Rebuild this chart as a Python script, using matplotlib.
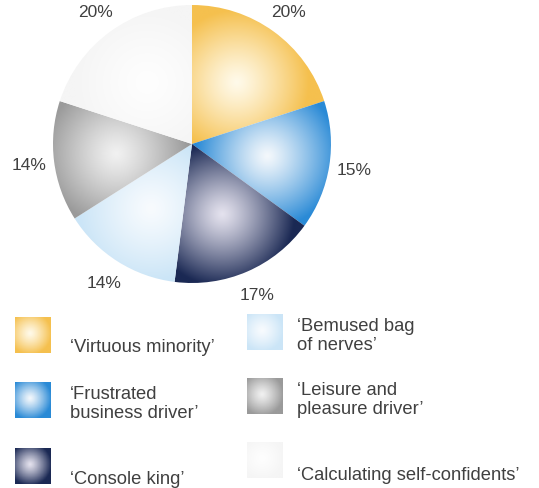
import numpy as np
import matplotlib
matplotlib.use('Agg')
import matplotlib.pyplot as plt
from matplotlib.colors import to_rgb

# segment shares of the customer base
segments = ['Virtuous minority', 'Frustrated\nbusiness driver', 'Console king',
            'Bemused bag\nof nerves', 'Leisure and\npleasure driver',
            'Calculating self-confidents']
shares = [20, 15, 17, 14, 14, 20]

# rim colour / highlight colour for each segment
edge_cols = ['#f5c04e', '#2a8ad6', '#1b2954', '#cbe5f7', '#9a9a9a', '#f5f5f5']
light_cols = ['#fffaea', '#f4f8fc', '#e4e2ee', '#f8fbfe', '#f1f1f1', '#fefefe']

TXT = '#404040'
FONT = 'Liberation Sans'
W, H = 539, 489


def shade(x, y, cx, cy, spread, edge, light, power=1.2):
    d = np.hypot(x - cx, y - cy)
    t = np.clip(d / spread, 0, 1) ** power
    e = np.array(to_rgb(edge))
    l = np.array(to_rgb(light))
    return l + (e - l) * t[..., None]


fig = plt.figure(figsize=(W / 100, H / 100), dpi=100)
fig.patch.set_facecolor('white')

# ---- pie ----
cx, cy, r = 192, 145, 139
ax = fig.add_axes([(cx - r) / W, (H - cy - r) / H, 2 * r / W, 2 * r / H])
wedges, texts = ax.pie(shares, labels=['%d%%' % s for s in shares],
                       startangle=90, counterclock=False, radius=1,
                       labeldistance=1.18,
                       wedgeprops=dict(facecolor='none', linewidth=0),
                       textprops=dict(fontsize=12.5, color=TXT, family=FONT))
for t in texts:
    t.set_ha('center')
    t.set_va('center')

gx, gy = np.meshgrid(np.linspace(-1, 1, 500), np.linspace(-1, 1, 500))
for w, ec, lc in zip(wedges, edge_cols, light_cols):
    mid = np.deg2rad((w.theta1 + w.theta2) / 2)
    img = shade(gx, gy, 0.55 * np.cos(mid), 0.55 * np.sin(mid), 0.52, ec, lc)
    im = ax.imshow(img, extent=(-1, 1, -1, 1), origin='lower',
                   interpolation='bilinear', zorder=1)
    im.set_clip_path(w)
ax.set_xlim(-1, 1)
ax.set_ylim(-1, 1)
ax.axis('off')

# ---- legend ----
lg = fig.add_axes([0, 0, 1, 1])
lg.set_xlim(0, W)
lg.set_ylim(H, 0)
lg.set_facecolor('none')
lg.axis('off')

sw = 36
swatch_pos = [(15, 318), (15, 383), (15, 449), (247, 315), (247, 379), (247, 443)]
text_pos = [(70, 347), (70, 404), (70, 480), (297, 336), (297, 400), (297, 475)]

sx, sy = np.meshgrid(np.linspace(0, 1, 60), np.linspace(0, 1, 60))
for i, name in enumerate(segments):
    x0, y0 = swatch_pos[i]
    img = shade(sx, sy, 0.42, 0.45, 0.6, edge_cols[i], light_cols[i])
    lg.imshow(img, extent=(x0, x0 + sw, y0 + sw, y0), origin='upper',
              interpolation='bilinear', aspect='auto')
    tx, ty = text_pos[i]
    lg.text(tx, ty, '\u2018' + name + '\u2019', ha='left', va='center',
            fontsize=13.2, color=TXT, family=FONT, linespacing=1.1)
lg.set_xlim(0, W)
lg.set_ylim(H, 0)

fig.savefig('out.png', dpi=100, facecolor='white')
